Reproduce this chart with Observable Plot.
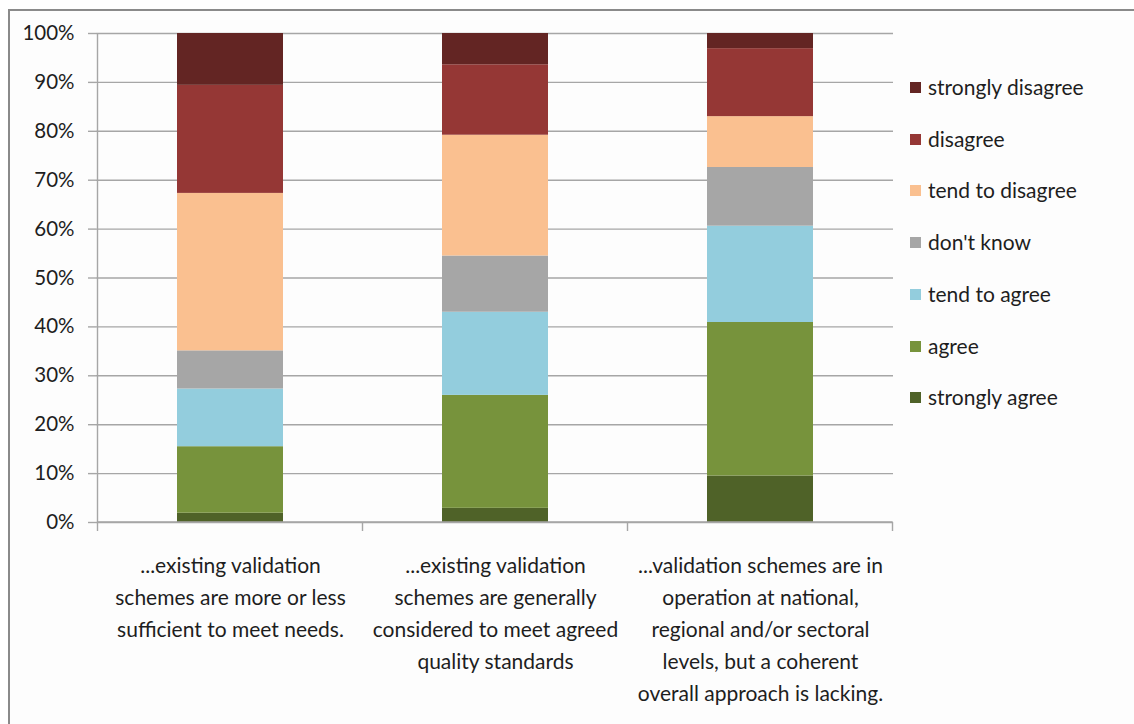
<!DOCTYPE html>
<html>
<head>
<meta charset="utf-8">
<script src="https://cdn.jsdelivr.net/npm/d3@7"></script>
<script src="https://cdn.jsdelivr.net/npm/@observablehq/plot@0.6"></script>
<style>
  html, body { margin: 0; padding: 0; background: #ffffff; }
  #wrap { position: relative; width: 1134px; height: 724px; overflow: hidden; font-family: Lato, "Open Sans", sans-serif; }
  #frame { position: absolute; left: 8px; top: 9px; width: 1140px; height: 740px; border-left: 2px solid #8a8a8a; border-top: 2px solid #8a8a8a; background: #fdfdfd; }
  #chart { position: absolute; left: 0; top: 0; }
  #legend { position: absolute; left: 910px; top: 0; }
  .item { position: absolute; left: 0; white-space: nowrap; font-size: 21px; color: #1e1e1e; line-height: 21px; }
  .sw { position: absolute; left: 0; top: 4px; width: 11px; height: 11px; }
  .lbl { position: absolute; left: 18px; top: -2px; }
</style>
</head>
<body>
<div id="wrap">
  <div id="frame"></div>
  <div id="chart"></div>
  <div id="legend"></div>
</div>
<script>
// Categories (statements)
const categories = [
  "...existing validation\nschemes are more or less\nsufficient to meet needs.",
  "...existing validation\nschemes are generally\nconsidered to meet agreed\nquality standards",
  "...validation schemes are in\noperation at national,\nregional and/or sectoral\nlevels, but a coherent\noverall approach is lacking."
];
// Responses, stacked bottom to top
const responses = ["strongly agree", "agree", "tend to agree", "don't know", "tend to disagree", "disagree", "strongly disagree"];
const colors = ["#4F6228", "#77933C", "#93CDDD", "#A6A6A6", "#FAC090", "#953735", "#632523"];

// Percent shares per category (same order as responses)
const stronglyAgree    = [1.9, 2.9, 9.5];
const agree            = [13.6, 23.1, 31.4];
const tendToAgree      = [11.8, 17.0, 19.7];
const dontKnow         = [7.8, 11.5, 12.0];
const tendToDisagree   = [32.2, 24.7, 10.4];
const disagree         = [22.1, 14.4, 13.9];
const stronglyDisagree = [10.6, 6.4, 3.1];

const yTicks = [0, 10, 20, 30, 40, 50, 60, 70, 80, 90, 100];

const series = [stronglyAgree, agree, tendToAgree, dontKnow, tendToDisagree, disagree, stronglyDisagree];
const data = [];
categories.forEach((c, i) => {
  responses.forEach((r, j) => data.push({cat: c, resp: r, value: series[j][i] / 100}));
});

const chart = Plot.plot({
  width: 1134,
  height: 724,
  marginLeft: 96,
  marginRight: 241,
  marginTop: 33,
  marginBottom: 202,
  style: {background: "transparent", fontFamily: "Lato, 'Open Sans', sans-serif", color: "#1e1e1e"},
  x: {domain: categories, paddingInner: 0.6, paddingOuter: 0.3, label: null},
  y: {domain: [0, 1], label: null},
  color: {domain: responses, range: colors},
  marks: [
    Plot.ruleY(yTicks.map(d => d / 100), {stroke: "#a6a6a6", strokeWidth: 1.4, strokeOpacity: 1}),
    Plot.barY(data, {x: "cat", y: "value", fill: "resp", order: responses}),
    Plot.axisY({ticks: yTicks.map(d => d / 100), tickFormat: d => Math.round(d * 100) + "%", tickSize: 8, tickPadding: 14, fontSize: 20.5, stroke: "#a6a6a6", strokeWidth: 1.4, strokeOpacity: 1, label: null}),
    Plot.axisX({tickSize: 0, tickPadding: 28, fontSize: 21, lineHeight: 1.52, label: null})
  ]
});

document.getElementById("chart").appendChild(chart);

// Axis lines and category-boundary ticks, from the plot's own scales
const xs = chart.scale("x");
const ys = chart.scale("y");
const svg = d3.select(chart);
const y0 = ys.apply(0), y1 = ys.apply(1);
const gap = (xs.step - xs.bandwidth) / 2;
const bounds = categories.map(c => xs.apply(c) - gap);
bounds.push(xs.apply(categories[categories.length - 1]) + xs.bandwidth + gap);
const g = svg.append("g").attr("stroke", "#a6a6a6").attr("stroke-width", 1.4);
g.append("line").attr("x1", bounds[0]).attr("x2", bounds[0]).attr("y1", y1).attr("y2", y0);
g.append("line").attr("x1", bounds[0]).attr("x2", bounds[bounds.length - 1]).attr("y1", y0).attr("y2", y0);
bounds.forEach(b => g.append("line").attr("x1", b).attr("x2", b).attr("y1", y0).attr("y2", y0 + 9));

// Legend (top to bottom: reversed stack order)
const legend = d3.select("#legend");
const legendItems = responses.slice().reverse();
const legendColors = colors.slice().reverse();
const legendTop = 78, legendStep = 51.7;
legendItems.forEach((r, i) => {
  const it = legend.append("div").attr("class", "item").style("top", (legendTop + i * legendStep) + "px");
  it.append("div").attr("class", "sw").style("background", legendColors[i]);
  it.append("div").attr("class", "lbl").text(r);
});
</script>
</body>
</html>
